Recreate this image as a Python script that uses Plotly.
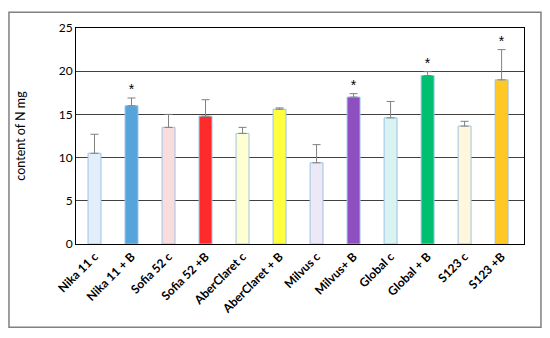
import plotly.graph_objects as go

categories = ["Nika 11 c", "Nika 11 + B", "Sofia 52 c", "Sofia 52 +B", "AberClaret c",
              "AberClaret + B", "Milvus c", "Milvus+ B", "Global c", "Global + B",
              "S123 c", "S123 +B"]
values = [10.5, 16.0, 13.5, 14.8, 12.8, 15.6, 9.4, 17.0, 14.6, 19.5, 13.65, 19.0]
errors = [2.2, 0.9, 1.5, 1.9, 0.7, 0.15, 2.1, 0.4, 1.9, 0.45, 0.55, 3.5]
significant = [False, True, False, False, False, False, False, True, False, True, False, True]

fill_colors = ["#E2EFFA", "#55A5DC", "#FADCDC", "#FF2A2A", "#FFFFD2", "#FFFF40",
               "#ECE8F6", "#8E4FC0", "#D8F3F1", "#00BF70", "#FFF6DE", "#FFC825"]

fig = go.Figure()
fig.add_trace(go.Bar(
    x=categories, y=values, width=0.35,
    marker=dict(color=fill_colors, line=dict(color="#9DC3E6", width=1)),
    error_y=dict(type="data", symmetric=False, array=errors,
                 arrayminus=[0] * len(errors), color="#808080", thickness=1, width=4),
    showlegend=False,
))

star_x = [c for c, s in zip(categories, significant) if s]
star_y = [v + e for v, e, s in zip(values, errors, significant) if s]
fig.add_trace(go.Scatter(
    x=star_x, y=star_y, mode="text", text=["*"] * len(star_x),
    textposition="top center", textfont=dict(size=14, color="black", family="Liberation Sans"),
    showlegend=False, cliponaxis=False,
))

fig.update_layout(
    width=542, height=330,
    margin=dict(l=68, r=26, t=18, b=94),
    plot_bgcolor="white", paper_bgcolor="white",
    font=dict(family="Lato", color="black"),
    bargap=0.65,
    shapes=[dict(type="rect", xref="paper", yref="paper",
                 x0=-0.1496, x1=1.0379, y0=-0.385, y1=1.073,
                 line=dict(color="#808080", width=1.5), layer="below")],
)
fig.update_xaxes(tickangle=-45, tickfont=dict(size=12, family="Lato", weight="bold"),
                 showline=True, linecolor="black", linewidth=1, mirror=True,
                 ticks="", showgrid=False)
fig.update_yaxes(range=[0, 25], dtick=5, tickfont=dict(size=12, family="Lato"),
                 showline=True, linecolor="black", linewidth=1, mirror=True,
                 gridcolor="#404040", gridwidth=1, zeroline=False,
                 title=dict(text="content of N mg", font=dict(size=12.5, family="Lato"), standoff=30))

fig.write_html("out.html")
